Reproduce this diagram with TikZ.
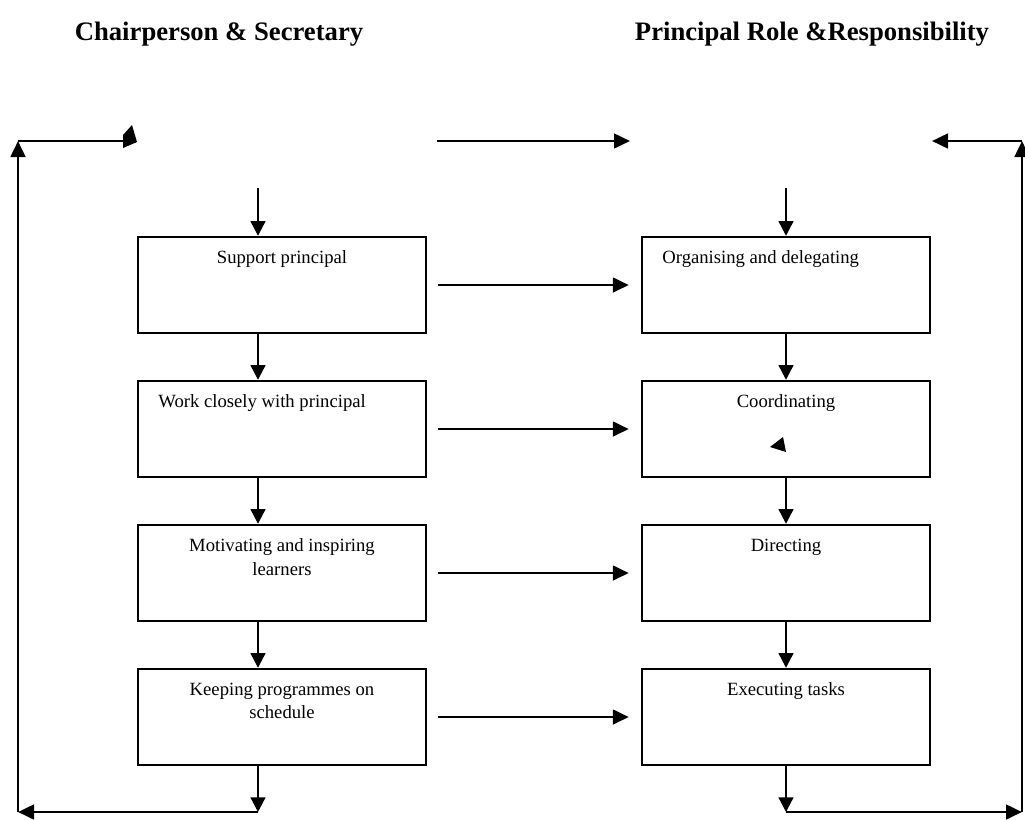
\documentclass[tikz,border=0pt]{standalone}
\usepackage{fontspec}
\setmainfont{Liberation Serif}
\usetikzlibrary{arrows.meta,positioning}
\tikzset{
    flowbox/.style={draw,line width=1.8pt,minimum width=216pt,minimum height=72pt,inner sep=0pt},
    boxtext/.style={inner sep=0pt,align=center,font=\fontsize{14}{17.5}\selectfont},
    heading/.style={inner sep=0pt,font=\fontsize{20}{24}\selectfont\bfseries},
    downarrow/.style={line width=1.7pt,-{Triangle[length=11pt,width=11pt]}},
    sidearrow/.style={line width=2pt,-{Triangle[length=12pt,width=11pt]}},
    frameline/.style={line width=2pt}
}
\begin{document}
\begin{tikzpicture}[x=0.75pt,y=-0.75pt]
    \useasboundingbox (0,0) rectangle (1025,819);
    %% Headings
    \node[heading,anchor=base] (hcs) at (219,40) {Chairperson \& Secretary};
    \node[heading,anchor=base] (hpr) at (812,40) {Principal Role \&Responsibility};
    %% Chairperson & Secretary
    \node[flowbox] (cs1) at (282,285) {};
    \node[flowbox] (cs2) at (282,429) {};
    \node[flowbox] (cs3) at (282,573) {};
    \node[flowbox] (cs4) at (282,717) {};
    \node[boxtext,below=11pt of cs1.north] (tcs1) {Support principal};
    \node[boxtext,below right=11pt and 16pt of cs2.north west] (tcs2) {Work closely with principal};
    \node[boxtext,below=11pt of cs3.north] (tcs3) {Motivating and inspiring\\learners};
    \node[boxtext,below=11pt of cs4.north] (tcs4) {Keeping programmes on\\schedule};
    %% Principal
    \node[flowbox] (pr1) at (786,285) {};
    \node[flowbox] (pr2) at (786,429) {};
    \node[flowbox] (pr3) at (786,573) {};
    \node[flowbox] (pr4) at (786,717) {};
    \node[boxtext,below right=11pt and 16pt of pr1.north west] (tpr1) {Organising and delegating};
    \node[boxtext,below=11pt of pr2.north] (tpr2) {Coordinating};
    \node[boxtext,below=11pt of pr3.north] (tpr3) {Directing};
    \node[boxtext,below=11pt of pr4.north] (tpr4) {Executing tasks};
    %% Free ends
    \coordinate (cstop) at (258,188);
    \coordinate (prtop) at (786,188);
    \coordinate (csbot) at (258,812);
    \coordinate (prbot) at (786,812);
    \coordinate (bl) at (18,812);
    \coordinate (br) at (1022,812);
    \coordinate (tl) at (18,141);
    \coordinate (tr) at (1022,141);
    \coordinate (tlend) at (123,141);
    \coordinate (trend) at (932,141);
    \coordinate (midl) at (437,141);
    \coordinate (midr) at (630,141);
    %% Down the columns
    \draw[downarrow] (cstop) -- (cs1.north -| cstop);
    \draw[downarrow] (cs1.south -| cstop) -- (cs2.north -| cstop);
    \draw[downarrow] (cs2.south -| cstop) -- (cs3.north -| cstop);
    \draw[downarrow] (cs3.south -| cstop) -- (cs4.north -| cstop);
    \draw[downarrow] (cs4.south -| cstop) -- (csbot);
    \draw[downarrow] (prtop) -- (pr1.north);
    \draw[downarrow] (pr1.south) -- (pr2.north);
    \draw[downarrow] (pr2.south) -- (pr3.north);
    \draw[downarrow] (pr3.south) -- (pr4.north);
    \draw[downarrow] (pr4.south) -- (prbot);
    %% Across
    \draw[sidearrow] (midl) -- (midr);
    \draw[sidearrow,shorten <=8pt,shorten >=9pt] (cs1.east) -- (pr1.west);
    \draw[sidearrow,shorten <=8pt,shorten >=9pt] (cs2.east) -- (pr2.west);
    \draw[sidearrow,shorten <=8pt,shorten >=9pt] (cs3.east) -- (pr3.west);
    \draw[sidearrow,shorten <=8pt,shorten >=9pt] (cs4.east) -- (pr4.west);
    %% Frame
    \draw[sidearrow] (csbot) -- (bl);
    \draw[sidearrow] (bl) -- (tl);
    \draw[frameline] (tl) -- (tlend);
    \fill (123,135) -- (132,125) -- (137,142) -- (123,148) -- cycle;
    \draw[sidearrow] (prbot) -- (br);
    \draw[sidearrow] (br) -- (tr);
    \draw[sidearrow] (tr) -- (trend);
    %% Stray tip
    \fill (770,447) -- (783,437) -- (786,452) -- cycle;
\end{tikzpicture}
\end{document}
